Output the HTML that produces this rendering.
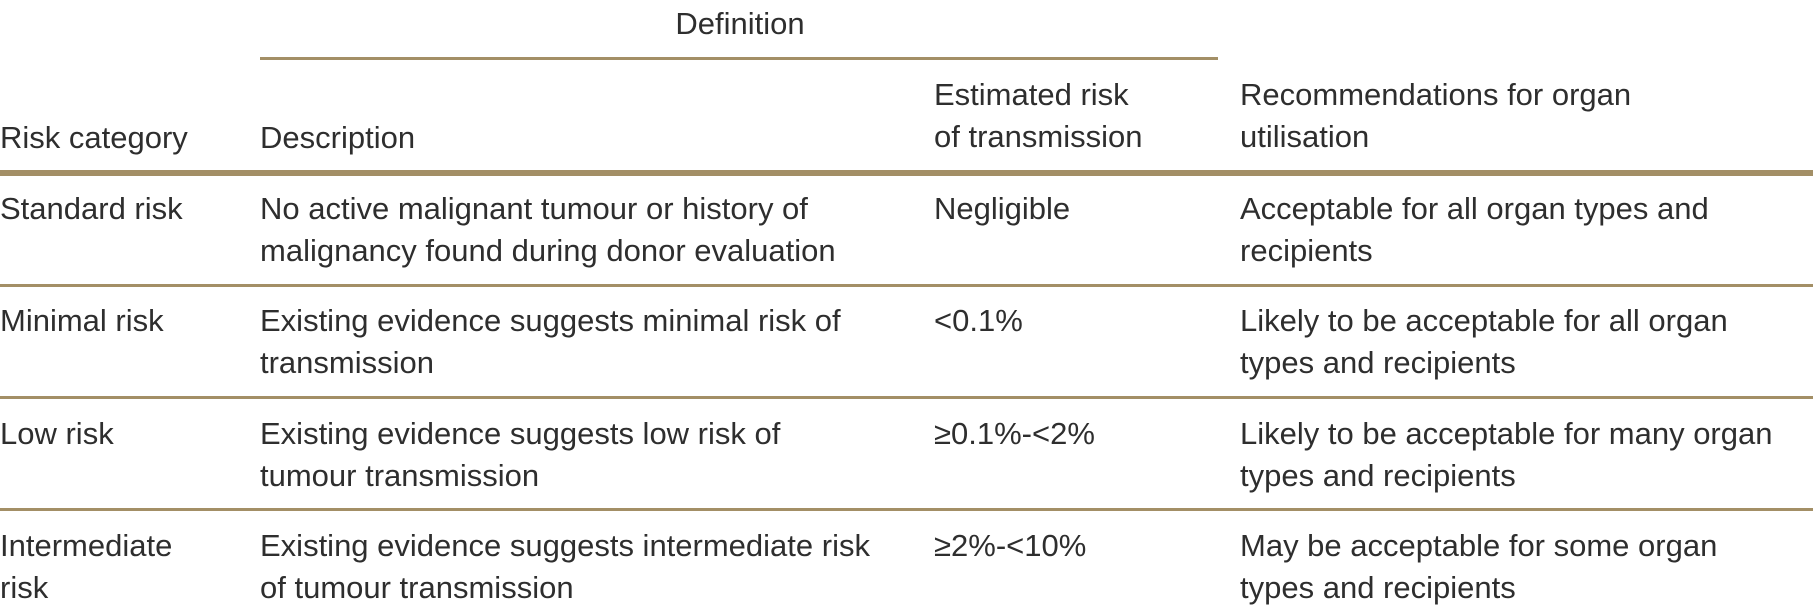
<!DOCTYPE html>
<html><head><meta charset="utf-8"><style>
body{margin:0;width:1813px;height:610px;background:#fff;overflow:hidden;position:relative;font-family:"Liberation Sans",Arial,sans-serif;color:#2e2e2e;}
.t{position:absolute;font-size:31px;line-height:42px;white-space:nowrap;}
.l{position:absolute;background:#a38f66;}
</style></head><body>
<div class="t" style="left:0;width:1480px;text-align:center;top:3px">Definition</div>
<div class="l" style="left:260px;width:958px;top:57px;height:3px"></div>
<div class="t" style="left:0;top:117px">Risk category</div>
<div class="t" style="left:260px;top:117px">Description</div>
<div class="t" style="left:934px;top:74px">Estimated risk<br>of transmission</div>
<div class="t" style="left:1240px;top:74px">Recommendations for organ<br>utilisation</div>
<div class="l" style="left:0;width:1813px;top:170px;height:6px"></div>

<div class="t" style="left:0;top:188px">Standard risk</div>
<div class="t" style="left:260px;top:188px">No active malignant tumour or history of<br>malignancy found during donor evaluation</div>
<div class="t" style="left:934px;top:188px">Negligible</div>
<div class="t" style="left:1240px;top:188px">Acceptable for all organ types and<br>recipients</div>
<div class="l" style="left:0;width:1813px;top:284px;height:3px"></div>

<div class="t" style="left:0;top:300px">Minimal risk</div>
<div class="t" style="left:260px;top:300px">Existing evidence suggests minimal risk of<br>transmission</div>
<div class="t" style="left:934px;top:300px">&lt;0.1%</div>
<div class="t" style="left:1240px;top:300px">Likely to be acceptable for all organ<br>types and recipients</div>
<div class="l" style="left:0;width:1813px;top:396px;height:3px"></div>

<div class="t" style="left:0;top:413px">Low risk</div>
<div class="t" style="left:260px;top:413px">Existing evidence suggests low risk of<br>tumour transmission</div>
<div class="t" style="left:934px;top:413px">≥0.1%-&lt;2%</div>
<div class="t" style="left:1240px;top:413px">Likely to be acceptable for many organ<br>types and recipients</div>
<div class="l" style="left:0;width:1813px;top:508px;height:3px"></div>

<div class="t" style="left:0;top:525px">Intermediate<br>risk</div>
<div class="t" style="left:260px;top:525px">Existing evidence suggests intermediate risk<br>of tumour transmission</div>
<div class="t" style="left:934px;top:525px">≥2%-&lt;10%</div>
<div class="t" style="left:1240px;top:525px">May be acceptable for some organ<br>types and recipients</div>
</body></html>
